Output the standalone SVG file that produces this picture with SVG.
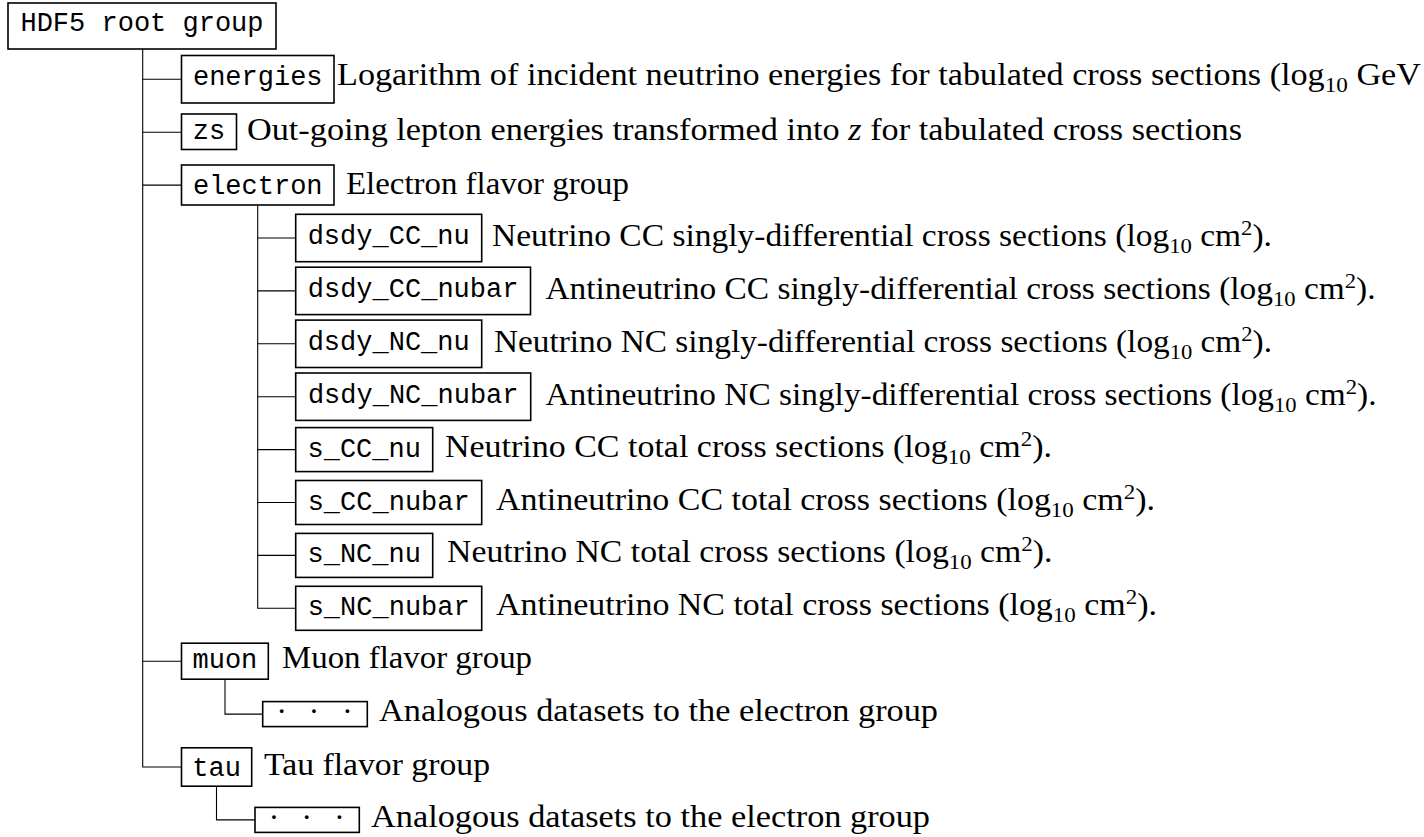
<svg xmlns="http://www.w3.org/2000/svg" width="1424" height="837" viewBox="0 0 1424 837">
<style>
.box{fill:#fff;stroke:#000;stroke-width:1.6}
.lbl{font-family:"Liberation Mono","DejaVu Sans Mono",monospace;font-size:27px;text-anchor:middle;fill:#000}
.desc{font-family:"Liberation Serif","DejaVu Serif",serif;font-size:31px;fill:#000}
.sm{font-size:21px}
.it{font-style:italic}
.dots{font-family:"Liberation Serif",serif;font-size:31px;text-anchor:middle;fill:#000}
.conn{fill:none;stroke:#000;stroke-width:1.1}
</style>
<rect width="1424" height="837" fill="#fff"/>
<g id="connectors">
<path class="conn" d="M142.7 49 V767 H181.5"/>
<path class="conn" d="M142.7 79.3 H181.5 M142.7 132.2 H181.5 M142.7 185.1 H181.5 M142.7 661.2 H181.5"/>
<path class="conn" d="M257.7 205 V608.3 H295.7"/>
<path class="conn" d="M257.7 238 H295.7 M257.7 290.9 H295.7 M257.7 343.8 H295.7 M257.7 396.7 H295.7 M257.7 449.6 H295.7 M257.7 502.5 H295.7 M257.7 555.4 H295.7"/>
<path class="conn" d="M225 679.2 V714.1 H262.7"/>
<path class="conn" d="M216.5 786.2 V819.9 H255"/>
</g>
<g id="root">
<rect class="box" x="8" y="3" width="268" height="46"/>
<text class="lbl" x="142" y="31">HDF5 root group</text>
</g>
<g id="energies">
<rect class="box" x="181.5" y="55.5" width="152.5" height="47.5"/>
<text class="lbl" x="257.75" y="85">energies</text>
<text class="desc" x="337" y="84.5" textLength="1084" lengthAdjust="spacingAndGlyphs">Logarithm of incident neutrino energies for tabulated cross sections (log<tspan class="sm" dy="7">10</tspan><tspan dy="-7"> GeV</tspan></text>
</g>
<g id="zs">
<rect class="box" x="181.5" y="114" width="55" height="35.5"/>
<text class="lbl" x="209" y="138.7">zs</text>
<text class="desc" x="247" y="140" textLength="995" lengthAdjust="spacingAndGlyphs">Out-going lepton energies transformed into <tspan class="it">z</tspan> for tabulated cross sections</text>
</g>
<g id="electron">
<rect class="box" x="181.5" y="165" width="152.5" height="40"/>
<text class="lbl" x="257.75" y="194">electron</text>
<text class="desc" x="346" y="193.5" textLength="283" lengthAdjust="spacingAndGlyphs">Electron flavor group</text>
</g>
<g id="dsdy_CC_nu">
<rect class="box" x="295.7" y="214.3" width="186" height="47.4"/>
<text class="lbl" x="388.7" y="244">dsdy_CC_nu</text>
<text class="desc" x="492" y="246" textLength="780" lengthAdjust="spacingAndGlyphs">Neutrino CC singly-differential cross sections (log<tspan class="sm" dy="7">10</tspan><tspan dy="-7"> cm</tspan><tspan class="sm" dy="-11">2</tspan><tspan dy="11">).</tspan></text>
</g>
<g id="dsdy_CC_nubar">
<rect class="box" x="295.7" y="267.2" width="234.8" height="47.4"/>
<text class="lbl" x="413.1" y="296.9">dsdy_CC_nubar</text>
<text class="desc" x="545.5" y="299" textLength="830" lengthAdjust="spacingAndGlyphs">Antineutrino CC singly-differential cross sections (log<tspan class="sm" dy="7">10</tspan><tspan dy="-7"> cm</tspan><tspan class="sm" dy="-11">2</tspan><tspan dy="11">).</tspan></text>
</g>
<g id="dsdy_NC_nu">
<rect class="box" x="295.7" y="320.1" width="186" height="47.4"/>
<text class="lbl" x="388.7" y="349.8">dsdy_NC_nu</text>
<text class="desc" x="494" y="351.8" textLength="778" lengthAdjust="spacingAndGlyphs">Neutrino NC singly-differential cross sections (log<tspan class="sm" dy="7">10</tspan><tspan dy="-7"> cm</tspan><tspan class="sm" dy="-11">2</tspan><tspan dy="11">).</tspan></text>
</g>
<g id="dsdy_NC_nubar">
<rect class="box" x="295.7" y="373" width="235" height="47.4"/>
<text class="lbl" x="413.2" y="402.7">dsdy_NC_nubar</text>
<text class="desc" x="545.5" y="404.7" textLength="831" lengthAdjust="spacingAndGlyphs">Antineutrino NC singly-differential cross sections (log<tspan class="sm" dy="7">10</tspan><tspan dy="-7"> cm</tspan><tspan class="sm" dy="-11">2</tspan><tspan dy="11">).</tspan></text>
</g>
<g id="s_CC_nu">
<rect class="box" x="295.7" y="427.6" width="137" height="44"/>
<text class="lbl" x="364.2" y="456.6">s_CC_nu</text>
<text class="desc" x="445" y="456.6" textLength="607" lengthAdjust="spacingAndGlyphs">Neutrino CC total cross sections (log<tspan class="sm" dy="7">10</tspan><tspan dy="-7"> cm</tspan><tspan class="sm" dy="-11">2</tspan><tspan dy="11">).</tspan></text>
</g>
<g id="s_CC_nubar">
<rect class="box" x="295.7" y="480.5" width="186" height="44"/>
<text class="lbl" x="388.7" y="509.5">s_CC_nubar</text>
<text class="desc" x="496" y="509.5" textLength="659" lengthAdjust="spacingAndGlyphs">Antineutrino CC total cross sections (log<tspan class="sm" dy="7">10</tspan><tspan dy="-7"> cm</tspan><tspan class="sm" dy="-11">2</tspan><tspan dy="11">).</tspan></text>
</g>
<g id="s_NC_nu">
<rect class="box" x="295.7" y="533.4" width="137" height="44"/>
<text class="lbl" x="364.2" y="562.4">s_NC_nu</text>
<text class="desc" x="447" y="562.4" textLength="605.5" lengthAdjust="spacingAndGlyphs">Neutrino NC total cross sections (log<tspan class="sm" dy="7">10</tspan><tspan dy="-7"> cm</tspan><tspan class="sm" dy="-11">2</tspan><tspan dy="11">).</tspan></text>
</g>
<g id="s_NC_nubar">
<rect class="box" x="295.7" y="586.3" width="186" height="44"/>
<text class="lbl" x="388.7" y="615.3">s_NC_nubar</text>
<text class="desc" x="496" y="615.3" textLength="661" lengthAdjust="spacingAndGlyphs">Antineutrino NC total cross sections (log<tspan class="sm" dy="7">10</tspan><tspan dy="-7"> cm</tspan><tspan class="sm" dy="-11">2</tspan><tspan dy="11">).</tspan></text>
</g>
<g id="muon">
<rect class="box" x="181.5" y="643.2" width="86.8" height="36"/>
<text class="lbl" x="224.9" y="667.5">muon</text>
<text class="desc" x="282" y="667.5" textLength="250" lengthAdjust="spacingAndGlyphs">Muon flavor group</text>
</g>
<g id="muon_datasets">
<rect class="box" x="262.7" y="701.6" width="104.6" height="25"/>
<text class="dots" x="281.7 314 347.3" y="722">···</text>
<text class="desc" x="379" y="721" textLength="559" lengthAdjust="spacingAndGlyphs">Analogous datasets to the electron group</text>
</g>
<g id="tau">
<rect class="box" x="181.5" y="747.8" width="70.2" height="38.4"/>
<text class="lbl" x="216.6" y="775.5">tau</text>
<text class="desc" x="264" y="774.5" textLength="226" lengthAdjust="spacingAndGlyphs">Tau flavor group</text>
</g>
<g id="tau_datasets">
<rect class="box" x="255" y="807.4" width="104.3" height="25"/>
<text class="dots" x="274 306.7 339.3" y="828">···</text>
<text class="desc" x="371" y="826.5" textLength="559" lengthAdjust="spacingAndGlyphs">Analogous datasets to the electron group</text>
</g>
</svg>
